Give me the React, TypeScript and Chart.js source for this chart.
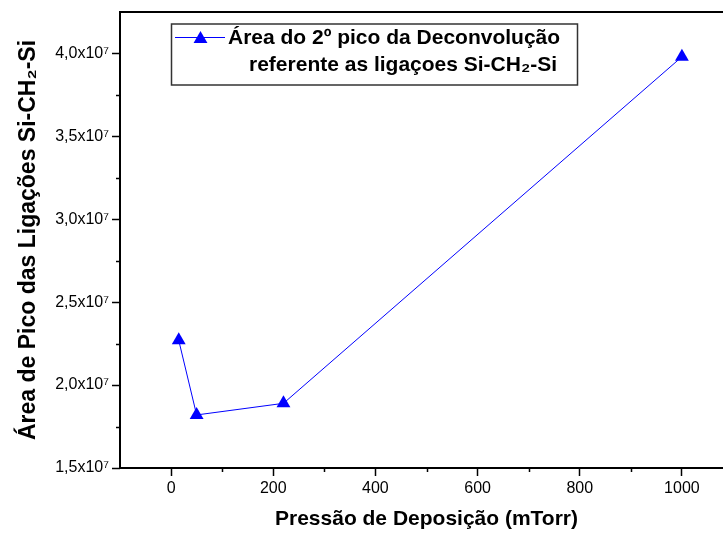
import React, { useEffect, useRef } from 'react';
import { Chart, registerables } from 'chart.js';

Chart.register(...registerables);

// ---- data ----
const pressures = [15, 50, 220, 1000];
const areas = [2.27e7, 1.82e7, 1.89e7, 3.98e7];

const xTickValues = [0, 200, 400, 600, 800, 1000];
const xMinorTickValues = [100, 300, 500, 700, 900];
const yTickValues = [1.5e7, 2.0e7, 2.5e7, 3.0e7, 3.5e7, 4.0e7];
const yTickLabels = ['1,5x10⁷', '2,0x10⁷', '2,5x10⁷', '3,0x10⁷', '3,5x10⁷', '4,0x10⁷'];
const yMinorTickValues = [1.75e7, 2.25e7, 2.75e7, 3.25e7, 3.75e7];

const legendLines = ['Área do 2º pico da Deconvolução', 'referente as ligaçoes Si-CH₂-Si'];
const xTitle = 'Pressão de Deposição (mTorr)';
const yTitle = 'Área de Pico das Ligações Si-CH₂-Si';

const FONT = '"Liberation Sans", Arial, sans-serif';
const BLUE = '#0000ff';

const framePlugin = {
  id: 'frameAndMinor',
  afterDraw(chart: any) {
    const ctx = chart.ctx;
    const a = chart.chartArea;
    const xs = chart.scales.x;
    const ys = chart.scales.y;
    ctx.save();
    ctx.strokeStyle = '#000';
    ctx.lineWidth = 1.5;
    ctx.beginPath();
    xMinorTickValues.forEach((v) => {
      const px = Math.round(xs.getPixelForValue(v)) + 0.5;
      ctx.moveTo(px, a.bottom);
      ctx.lineTo(px, a.bottom + 4);
    });
    yMinorTickValues.forEach((v) => {
      const py = Math.round(ys.getPixelForValue(v)) + 0.5;
      ctx.moveTo(a.left - 4, py);
      ctx.lineTo(a.left, py);
    });
    ctx.stroke();
    ctx.lineWidth = 2;
    ctx.strokeRect(a.left, a.top, a.right - a.left, a.bottom - a.top);

    // legend box
    ctx.strokeStyle = '#333';
    ctx.lineWidth = 1.5;
    ctx.strokeRect(171.5, 24, 406, 61);
    ctx.strokeStyle = BLUE;
    ctx.lineWidth = 1;
    ctx.beginPath();
    ctx.moveTo(175, 37.5);
    ctx.lineTo(225, 37.5);
    ctx.stroke();
    const r = 8;
    const cx = 200.5;
    const cy = 39;
    ctx.fillStyle = BLUE;
    ctx.beginPath();
    ctx.moveTo(cx, cy - r);
    ctx.lineTo(cx + r * Math.sin(Math.PI / 3), cy + r / 2);
    ctx.lineTo(cx - r * Math.sin(Math.PI / 3), cy + r / 2);
    ctx.closePath();
    ctx.fill();
    ctx.fillStyle = '#000';
    ctx.font = 'bold 21px ' + FONT;
    ctx.textBaseline = 'middle';
    ctx.textAlign = 'left';
    ctx.fillText(legendLines[0], 228, 38);
    ctx.fillText(legendLines[1], 249, 65);
    ctx.restore();
  },
};

export default function App() {
  const ref = useRef<HTMLCanvasElement | null>(null);
  useEffect(() => {
    if (!ref.current) return;
    const chart = new Chart(ref.current, {
      type: 'line',
      data: {
        datasets: [
          {
            label: legendLines.join(' '),
            data: pressures.map((p, i) => ({ x: p, y: areas[i] })),
            borderColor: BLUE,
            backgroundColor: BLUE,
            borderWidth: 1,
            pointStyle: 'triangle',
            pointRadius: 8,
            pointBorderWidth: 0,
            tension: 0,
          },
        ],
      },
      options: {
        animation: false,
        responsive: false,
        devicePixelRatio: 1,
        layout: { autoPadding: false, padding: { top: 12, left: 0, right: 0, bottom: 0 } },
        plugins: { legend: { display: false }, tooltip: { enabled: false } },
        scales: {
          x: {
            type: 'linear',
            min: -100,
            max: 1100,
            afterBuildTicks: (s: any) => {
              s.ticks = xTickValues.map((v) => ({ value: v }));
            },
            afterFit: (s: any) => {
              s.height = 67;
              s.paddingLeft = 0;
              s.paddingRight = 0;
            },
            ticks: {
              autoSkip: false,
              maxRotation: 0,
              color: '#000',
              padding: 3,
              font: { family: FONT, size: 16 },
              callback: (v: any) => String(v),
            },
            grid: {
              display: true,
              drawOnChartArea: false,
              drawTicks: true,
              tickLength: 8,
              tickWidth: 1.5,
              tickColor: '#000',
            },
            border: { display: false },
            title: {
              display: true,
              text: xTitle,
              color: '#000',
              font: { family: FONT, size: 21, weight: 'bold' },
              padding: { top: 0, bottom: 3 },
            },
          },
          y: {
            type: 'linear',
            min: 1.5e7,
            max: 4.25e7,
            afterBuildTicks: (s: any) => {
              s.ticks = yTickValues.map((v) => ({ value: v }));
            },
            afterFit: (s: any) => {
              s.width = 120;
              s.paddingTop = 0;
              s.paddingBottom = 0;
            },
            ticks: {
              autoSkip: false,
              color: '#000',
              padding: 3,
              font: { family: FONT, size: 16 },
              callback: (v: any) => {
                const i = yTickValues.findIndex((t) => Math.abs(t - v) < 1);
                return i >= 0 ? yTickLabels[i] : '';
              },
            },
            grid: {
              display: true,
              drawOnChartArea: false,
              drawTicks: true,
              tickLength: 8,
              tickWidth: 1.5,
              tickColor: '#000',
            },
            border: { display: false },
            title: {
              display: true,
              text: yTitle,
              color: '#000',
              font: { family: FONT, size: 23, weight: 'bold' },
              padding: { top: 15, bottom: 0 },
            },
          },
        },
      },
      plugins: [framePlugin],
    });
    return () => chart.destroy();
  }, []);
  return (
    <div
      style={{
        position: 'fixed',
        left: 0,
        top: 0,
        width: 723,
        height: 535,
        overflow: 'hidden',
        background: '#fff',
      }}
    >
      <canvas ref={ref} width={733} height={535} style={{ display: 'block' }} />
    </div>
  );
}
